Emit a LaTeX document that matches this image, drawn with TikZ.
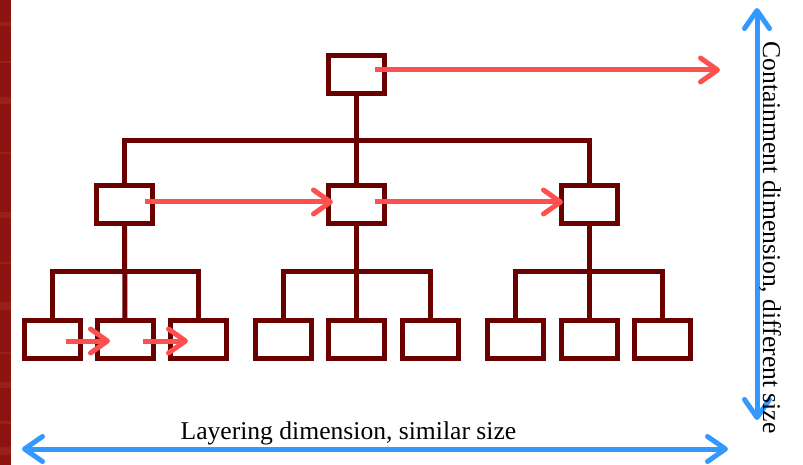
\documentclass[tikz,border=0pt]{standalone}
\usepackage{fontspec}
\setmainfont{Liberation Serif}
\usetikzlibrary{arrows.meta}
\definecolor{treered}{RGB}{107,0,0}
\definecolor{flowred}{RGB}{255,80,80}
\definecolor{dimblue}{RGB}{51,153,255}
\definecolor{stripred}{RGB}{140,20,16}
\definecolor{streakred}{RGB}{158,42,32}
\begin{document}
\begin{tikzpicture}[x=1pt,y=-1pt,
  box/.style={draw=treered,line width=5pt,minimum width=56pt,minimum height=38pt,inner sep=0pt,outer sep=0pt},
  link/.style={draw=treered,line width=5pt},
  flow/.style={draw=flowred,line width=5pt,-{Straight Barb[length=17pt,width=24pt,round]}},
  dim/.style={draw=dimblue,line width=5pt,{Straight Barb[length=18pt,width=25pt,round]}-{Straight Barb[length=18pt,width=25pt,round]}},
  lbl/.style={font=\fontsize{25.6}{30}\selectfont,inner sep=0pt}]
\useasboundingbox (0,0) rectangle (803,465);
% left textured strip
\fill[stripred] (0,0) rectangle (11,465);
\foreach \ya/\yb in {22/26,61/63,97/104,152/154,212/218,262/264,302/310,352/354,382/388,421/424,447/455}
  \fill[streakred,opacity=0.6] (0,\ya) rectangle (11,\yb);
% boxes
\node[box] (r) at (356,75) {};
\node[box] (m1) at (124.5,205) {};
\node[box] (m2) at (356,205) {};
\node[box] (m3) at (589,205) {};
\node[box] (a1) at (52,339) {};
\node[box] (a2) at (125,339) {};
\node[box] (a3) at (198.5,339) {};
\node[box] (b1) at (283,339) {};
\node[box] (b2) at (356,339) {};
\node[box] (b3) at (430,339) {};
\node[box] (c1) at (515,339) {};
\node[box] (c2) at (589,339) {};
\node[box] (c3) at (662,339) {};
% tree links
\coordinate (tb) at (356,140.5);
\coordinate (ga) at (124.5,271.5);
\coordinate (gb) at (356,271.5);
\coordinate (gc) at (589,271.5);
\draw[link] (r.south) -- (m2.north);
\draw[link] (m1.north) |- (tb) -| (m3.north);
\draw[link] (m1.south) -- (a2.north);
\draw[link] (a1.north) |- (ga) -| (a3.north);
\draw[link] (m2.south) -- (b2.north);
\draw[link] (b1.north) |- (gb) -| (b3.north);
\draw[link] (m3.south) -- (c2.north);
\draw[link] (c1.north) |- (gc) -| (c3.north);
% red flows
\coordinate (rt) at (720,70);
\draw[flow] ([xshift=19pt,yshift=5pt]r.center) -- (rt);
\draw[flow] ([xshift=20.5pt,yshift=3pt]m1.center) -- ([xshift=-23pt,yshift=3pt]m2.center);
\draw[flow] ([xshift=19pt,yshift=3pt]m2.center) -- ([xshift=-26pt,yshift=3pt]m3.center);
\draw[flow] ([xshift=14pt,yshift=-2pt]a1.center) -- ([xshift=-15pt,yshift=-2pt]a2.center);
\draw[flow] ([xshift=18pt,yshift=-2pt]a2.center) -- ([xshift=-10.5pt,yshift=-2pt]a3.center);
% blue dimensions
\coordinate (hl) at (22,449);
\coordinate (hr) at (728,449);
\coordinate (vt) at (757,8);
\coordinate (vb) at (757,420);
\draw[dim] (hl) -- (hr);
\draw[dim] (vt) -- (vb);
% labels
\node[lbl,anchor=base] (lay) at (348.4,439) {Layering dimension, similar size};
\node[lbl,anchor=base,rotate=-90] (con) at (763,237.5) {Containment dimension, different size};
\end{tikzpicture}
\end{document}
